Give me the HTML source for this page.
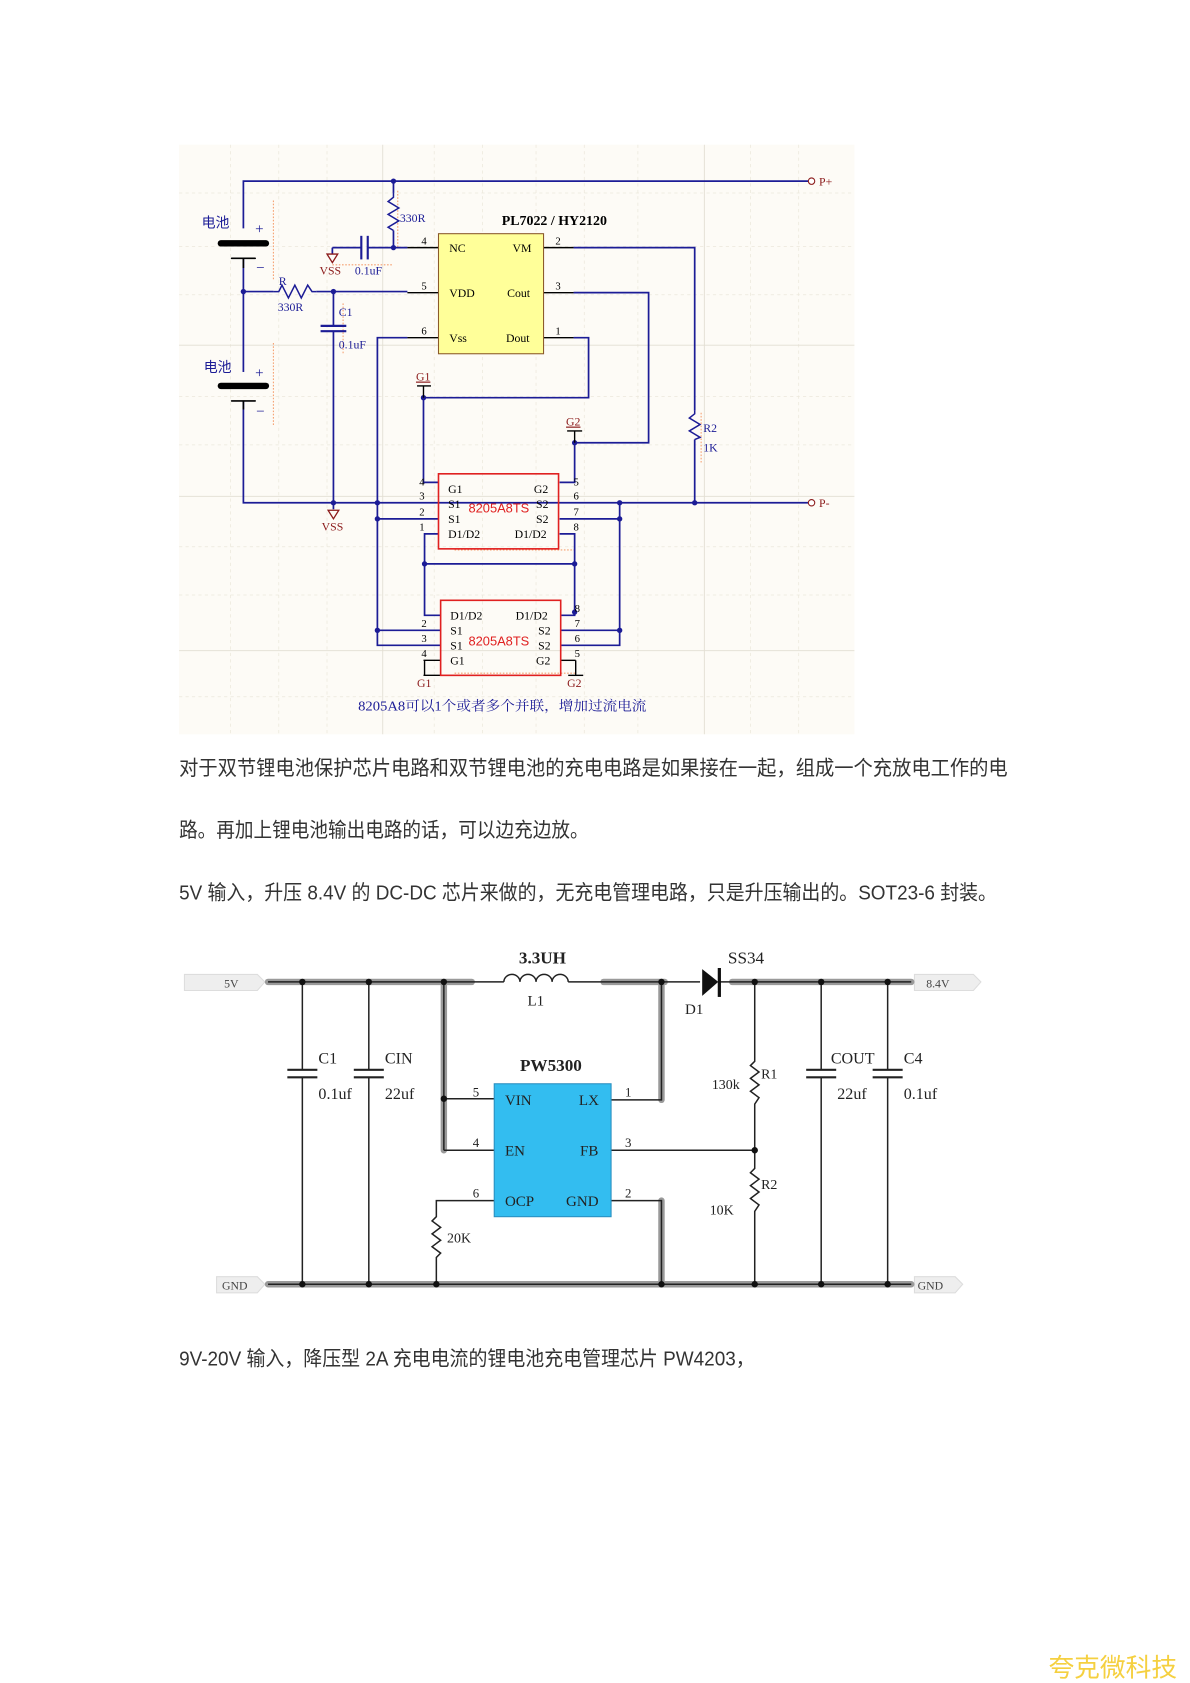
<!DOCTYPE html>
<html><head><meta charset="utf-8"><style>
html,body{margin:0;padding:0;background:#fff;}
svg{display:block;}
.t{font-family:"Liberation Sans","Noto Sans CJK SC",sans-serif;fill:#333;font-size:19px;}
.s{font-family:"Liberation Serif","Noto Serif CJK SC",serif;}
</style></head><body>
<svg width="1190" height="1683" viewBox="0 0 1110 1570" xmlns="http://www.w3.org/2000/svg">
<rect x="167" y="135" width="630" height="550" fill="#fdfbf6"/>
<g stroke="#ece8dc" stroke-width="0.7" stroke-dasharray="3,3">
<line x1="167" y1="180" x2="797" y2="180"/><line x1="167" y1="230" x2="797" y2="230"/><line x1="167" y1="275" x2="797" y2="275"/><line x1="167" y1="370" x2="797" y2="370"/><line x1="167" y1="415" x2="797" y2="415"/><line x1="167" y1="510" x2="797" y2="510"/><line x1="167" y1="555" x2="797" y2="555"/><line x1="167" y1="650" x2="797" y2="650"/>
<line x1="215" y1="135" x2="215" y2="685"/><line x1="260" y1="135" x2="260" y2="685"/><line x1="305" y1="135" x2="305" y2="685"/><line x1="405" y1="135" x2="405" y2="685"/><line x1="450" y1="135" x2="450" y2="685"/><line x1="500" y1="135" x2="500" y2="685"/><line x1="545" y1="135" x2="545" y2="685"/><line x1="595" y1="135" x2="595" y2="685"/><line x1="700" y1="135" x2="700" y2="685"/><line x1="745" y1="135" x2="745" y2="685"/>
</g>
<g stroke="#e2ded2" stroke-width="0.8">
<line x1="167" y1="322" x2="797" y2="322"/><line x1="167" y1="463" x2="797" y2="463"/><line x1="167" y1="607" x2="797" y2="607"/>
<line x1="357" y1="135" x2="357" y2="685"/><line x1="657" y1="135" x2="657" y2="685"/>
</g>
<g stroke="#f5a070" stroke-width="1" stroke-dasharray="1.5,1.5" fill="none">
<line x1="255" y1="187" x2="255" y2="262"/><line x1="255" y1="320" x2="255" y2="398"/>
<line x1="371" y1="178" x2="371" y2="232"/><line x1="310" y1="247" x2="367" y2="247"/>
<line x1="320" y1="283" x2="320" y2="330"/><line x1="654" y1="385" x2="654" y2="432"/>
<line x1="424" y1="513" x2="536" y2="513"/><line x1="424" y1="628" x2="537" y2="628"/>
</g>
<g stroke="#1c1c96" stroke-width="1.6" fill="none">
<polyline points="227,213 227,169 755,169"/>
<line x1="227" y1="241" x2="227" y2="347"/>
<polyline points="227,374 227,469 755,469"/>
<line x1="227" y1="272" x2="255" y2="272"/>
<line x1="295" y1="272" x2="380" y2="272"/>
<line x1="311" y1="272" x2="311" y2="304"/>
<line x1="311" y1="309" x2="311" y2="475"/>
<line x1="367" y1="169" x2="367" y2="180"/>
<line x1="367" y1="215" x2="367" y2="231"/>
<line x1="310" y1="231" x2="337" y2="231"/><line x1="343" y1="231" x2="380" y2="231"/>
<line x1="310" y1="231" x2="310" y2="237"/>
<polyline points="535,231 648,231 648,383"/>
<line x1="648" y1="410" x2="648" y2="469"/>
<polyline points="535,273 605,273 605,413 536,413 536,450 522,450"/>
<polyline points="535,315 549,315 549,371 395,371 395,450 409,450"/>
<polyline points="380,315 352,315 352,602 411,602"/>
<line x1="352" y1="484" x2="409" y2="484"/><line x1="352" y1="588" x2="411" y2="588"/>
<polyline points="409,498 396,498 396,574 411,574"/>
<line x1="396" y1="526" x2="536" y2="526"/>
<polyline points="522,498 536,498 536,574 523,574"/>
<line x1="522" y1="484" x2="578" y2="484"/>
<polyline points="578,469 578,602 523,602"/>
<line x1="523" y1="588" x2="578" y2="588"/>
</g>
<g stroke="#1c1c96" stroke-width="1.4" fill="none">
<polyline points="255,272 260,272 263,266 269,278 275,266 281,278 287,266 291,272 295,272"/>
<polyline points="367,180 367,184 362,188 372,194 362,200 372,206 362,212 367,215"/>
<polyline points="648,383 648,386 643,390 653,396 643,402 653,408 648,410"/>
</g>
<g stroke="#1c1c96" stroke-width="2">
<line x1="337" y1="220" x2="337" y2="242"/><line x1="343" y1="220" x2="343" y2="242"/>
<line x1="299" y1="304" x2="323" y2="304"/><line x1="299" y1="309" x2="323" y2="309"/>
</g>
<g stroke="#000" stroke-linecap="round">
<line x1="206" y1="227" x2="248" y2="227" stroke-width="6"/><line x1="216" y1="241" x2="238" y2="241" stroke-width="1.5"/>
<line x1="206" y1="360" x2="248" y2="360" stroke-width="6"/><line x1="216" y1="374" x2="238" y2="374" stroke-width="1.5"/>
</g>
<line x1="227" y1="241" x2="227" y2="250" stroke="#000" stroke-width="1.5"/>
<line x1="227" y1="374" x2="227" y2="382" stroke="#000" stroke-width="1.5"/>
<g fill="#1c1c96">
<circle cx="367" cy="169" r="2.5"/><circle cx="367" cy="231" r="2.5"/><circle cx="227" cy="272" r="2.5"/><circle cx="311" cy="272" r="2.5"/><circle cx="311" cy="469" r="2.5"/><circle cx="352" cy="469" r="2.5"/><circle cx="352" cy="484" r="2.5"/><circle cx="578" cy="469" r="2.5"/><circle cx="578" cy="484" r="2.5"/><circle cx="648" cy="469" r="2.5"/><circle cx="395" cy="371" r="2.5"/><circle cx="536" cy="413" r="2.5"/><circle cx="396" cy="526" r="2.5"/><circle cx="536" cy="526" r="2.5"/><circle cx="536" cy="571" r="2.5"/><circle cx="352" cy="588" r="2.5"/><circle cx="578" cy="588" r="2.5"/>
</g>
<g stroke="#000" stroke-width="1.3">
<line x1="380" y1="231" x2="409" y2="231"/><line x1="380" y1="273" x2="409" y2="273"/><line x1="380" y1="315" x2="409" y2="315"/>
<line x1="507" y1="231" x2="535" y2="231"/><line x1="507" y1="273" x2="535" y2="273"/><line x1="507" y1="315" x2="535" y2="315"/>
<line x1="395" y1="630" x2="411" y2="630"/><line x1="395" y1="616" x2="411" y2="616"/><line x1="396" y1="616" x2="396" y2="630"/>
<line x1="523" y1="616" x2="537" y2="616"/><line x1="537" y1="616" x2="537" y2="630"/><line x1="530" y1="630" x2="544" y2="630"/>
<line x1="389" y1="360" x2="402" y2="360"/><line x1="395" y1="360" x2="395" y2="371"/>
<line x1="529" y1="402" x2="543" y2="402"/><line x1="536" y1="402" x2="536" y2="413"/>
</g>
<rect x="409" y="218" width="98" height="112" fill="#ffff99" stroke="#8b5a2b" stroke-width="1"/>
<rect x="409" y="442" width="112" height="70" fill="none" stroke="#e02020" stroke-width="1.5"/>
<rect x="411" y="560" width="112" height="70" fill="none" stroke="#e02020" stroke-width="1.5"/>
<g fill="none" stroke="#8b1a1a" stroke-width="1.2">
<polygon points="305,237 315,237 310,245"/><polygon points="306,476 316,476 311,484"/>
</g>
<circle cx="757" cy="169" r="3" fill="#fff" stroke="#8b1a1a"/><circle cx="757" cy="469" r="3" fill="#fff" stroke="#8b1a1a"/>
<g class="s" font-size="11" fill="#8b1a1a">
<text x="764" y="173">P+</text><text x="764" y="473">P-</text>
<text x="298" y="256">VSS</text><text x="300" y="495">VSS</text>
<text x="388" y="355" text-decoration="underline">G1</text><text x="528" y="397" text-decoration="underline">G2</text>
<text x="389" y="641">G1</text><text x="529" y="641">G2</text>
</g>
<g class="s" font-size="11" fill="#1c1c96">
<text x="188" y="212" font-size="13" font-family="Noto Sans CJK SC,sans-serif">电池</text>
<text x="190" y="347" font-size="13" font-family="Noto Sans CJK SC,sans-serif">电池</text>
<text x="238" y="218" font-size="14">+</text><text x="238" y="352" font-size="14">+</text>
<text x="239" y="254" font-size="14">−</text><text x="239" y="388" font-size="14">−</text>
<text x="260" y="266">R</text><text x="259" y="290">330R</text>
<text x="373" y="207">330R</text><text x="331" y="256">0.1uF</text>
<text x="316" y="295">C1</text><text x="316" y="325">0.1uF</text>
<text x="656" y="403">R2</text><text x="656" y="421">1K</text>
<text x="334" y="663" font-size="12.5" textLength="269" lengthAdjust="spacingAndGlyphs">8205A8可以1个或者多个并联，增加过流电流</text>
</g>
<g class="s" font-size="11" fill="#000">
<text x="468" y="210" font-weight="bold" font-size="13">PL7022 / HY2120</text>
<text x="419" y="235">NC</text><text x="478" y="235">VM</text>
<text x="419" y="277">VDD</text><text x="473" y="277">Cout</text>
<text x="419" y="319">Vss</text><text x="472" y="319">Dout</text>
<text x="393" y="228" font-size="10">4</text><text x="393" y="270" font-size="10">5</text><text x="393" y="312" font-size="10">6</text>
<text x="518" y="228" font-size="10">2</text><text x="518" y="270" font-size="10">3</text><text x="518" y="312" font-size="10">1</text>
<text x="418" y="460">G1</text><text x="498" y="460">G2</text>
<text x="418" y="474">S1</text><text x="500" y="474">S2</text>
<text x="418" y="488">S1</text><text x="500" y="488">S2</text>
<text x="418" y="502">D1/D2</text><text x="480" y="502">D1/D2</text>
<text x="420" y="578">D1/D2</text><text x="481" y="578">D1/D2</text>
<text x="420" y="592">S1</text><text x="502" y="592">S2</text>
<text x="420" y="606">S1</text><text x="502" y="606">S2</text>
<text x="420" y="620">G1</text><text x="500" y="620">G2</text>
<g font-size="10">
<text x="391" y="453">4</text><text x="391" y="466">3</text><text x="391" y="481">2</text><text x="391" y="495">1</text>
<text x="535" y="453">5</text><text x="535" y="466">6</text><text x="535" y="481">7</text><text x="535" y="495">8</text>
<text x="393" y="585">2</text><text x="393" y="599">3</text><text x="393" y="613">4</text>
<text x="536" y="571">8</text><text x="536" y="585">7</text><text x="536" y="599">6</text><text x="536" y="613">5</text>
</g>
</g>
<g font-family="Liberation Sans,sans-serif" font-size="12" fill="#e02020">
<text x="437" y="478">8205A8TS</text><text x="437" y="602">8205A8TS</text>
</g>

<text class="t" x="167" y="723" textLength="773" lengthAdjust="spacingAndGlyphs">对于双节锂电池保护芯片电路和双节锂电池的充电电路是如果接在一起，组成一个充放电工作的电</text>
<text class="t" x="167" y="781" textLength="382" lengthAdjust="spacingAndGlyphs">路。再加上锂电池输出电路的话，可以边充边放。</text>
<text class="t" x="167" y="839" textLength="763" lengthAdjust="spacingAndGlyphs">5V 输入，升压 8.4V 的 DC-DC 芯片来做的，无充电管理电路，只是升压输出的。SOT23-6 封装。</text>
<text class="t" x="167" y="1274" textLength="537" lengthAdjust="spacingAndGlyphs">9V-20V 输入，降压型 2A 充电电流的锂电池充电管理芯片 PW4203，</text>

<g fill="#eeeeee" stroke="#dddddd">
<polygon points="172,909 240,909 247,916 240,924 172,924"/>
<polygon points="853,909 908,909 915,916 908,924 853,924"/>
<polygon points="202,1191 240,1191 247,1198 240,1206 202,1206"/>
<polygon points="853,1191 891,1191 898,1198 891,1206 853,1206"/>
</g>
<g font-family="Liberation Serif,serif" font-size="11" fill="#444">
<text x="209" y="921">5V</text><text x="864" y="921">8.4V</text>
<text x="207" y="1203">GND</text><text x="856" y="1203">GND</text>
</g>
<g stroke="#9a9a9a" stroke-width="6" stroke-linecap="round" fill="none">
<line x1="250" y1="916" x2="440" y2="916"/><line x1="563" y1="916" x2="620" y2="916"/><line x1="683" y1="916" x2="850" y2="916"/>
<line x1="250" y1="1198" x2="850" y2="1198"/>
<polyline points="414,916 414,1073"/><polyline points="617,916 617,1026"/><polyline points="617,1120 617,1198"/>
</g>
<g stroke="#222" stroke-width="1.4" fill="none">
<line x1="250" y1="916" x2="470" y2="916"/><line x1="530" y1="916" x2="653" y2="916"/><line x1="672" y1="916" x2="850" y2="916"/>
<line x1="250" y1="1198" x2="850" y2="1198"/>
<path d="M470,916 a7.5,7 0 0 1 15,0 a7.5,7 0 0 1 15,0 a7.5,7 0 0 1 15,0 a7.5,7 0 0 1 15,0"/>
<line x1="414" y1="916" x2="414" y2="1073"/><line x1="414" y1="1025" x2="461" y2="1025"/><line x1="414" y1="1073" x2="461" y2="1073"/>
<polyline points="570,1026 617,1026 617,916"/><line x1="570" y1="1073" x2="704" y2="1073"/>
<polyline points="570,1120 617,1120 617,1198"/>
<polyline points="461,1120 407,1120 407,1135 403,1139 411,1145 403,1151 411,1157 403,1163 411,1169 407,1173 407,1198"/>
<line x1="282" y1="916" x2="282" y2="998"/><line x1="282" y1="1005" x2="282" y2="1198"/>
<line x1="344" y1="916" x2="344" y2="998"/><line x1="344" y1="1005" x2="344" y2="1198"/>
<line x1="766" y1="916" x2="766" y2="998"/><line x1="766" y1="1005" x2="766" y2="1198"/>
<line x1="828" y1="916" x2="828" y2="998"/><line x1="828" y1="1005" x2="828" y2="1198"/>
<polyline points="704,916 704,990 700,994 708,1000 700,1006 708,1012 700,1018 708,1024 704,1030 704,1090 700,1094 708,1100 700,1106 708,1112 700,1118 708,1124 704,1130 704,1198"/>
</g>
<g stroke="#222" stroke-width="2">
<line x1="268" y1="998" x2="296" y2="998"/><line x1="268" y1="1005" x2="296" y2="1005"/>
<line x1="330" y1="998" x2="358" y2="998"/><line x1="330" y1="1005" x2="358" y2="1005"/>
<line x1="752" y1="998" x2="780" y2="998"/><line x1="752" y1="1005" x2="780" y2="1005"/>
<line x1="814" y1="998" x2="842" y2="998"/><line x1="814" y1="1005" x2="842" y2="1005"/>
</g>
<polygon points="655,904 655,929 670,916" fill="#111"/><line x1="671" y1="903" x2="671" y2="930" stroke="#111" stroke-width="3"/>
<g fill="#111">
<circle cx="282" cy="916" r="3"/><circle cx="344" cy="916" r="3"/><circle cx="414" cy="916" r="3"/><circle cx="617" cy="916" r="3"/><circle cx="704" cy="916" r="3"/><circle cx="766" cy="916" r="3"/><circle cx="828" cy="916" r="3"/>
<circle cx="414" cy="1025" r="3"/><circle cx="704" cy="1073" r="3"/>
<circle cx="282" cy="1198" r="3"/><circle cx="344" cy="1198" r="3"/><circle cx="407" cy="1198" r="3"/><circle cx="617" cy="1198" r="3"/><circle cx="704" cy="1198" r="3"/><circle cx="766" cy="1198" r="3"/><circle cx="828" cy="1198" r="3"/>
</g>
<rect x="461" y="1011" width="109" height="124" fill="#33bdf0" stroke="#2a8fc0" stroke-width="1"/>
<g font-family="Liberation Serif,serif" fill="#222" font-size="14">
<text x="484" y="899" font-weight="bold" font-size="16">3.3UH</text>
<text x="679" y="899" font-size="16">SS34</text>
<text x="492" y="938">L1</text><text x="639" y="946">D1</text>
<text x="485" y="999" font-weight="bold" font-size="16">PW5300</text>
<text x="297" y="992" font-size="15">C1</text><text x="297" y="1025" font-size="15">0.1uf</text>
<text x="359" y="992" font-size="15">CIN</text><text x="359" y="1025" font-size="15">22uf</text>
<text x="775" y="992" font-size="15">COUT</text><text x="781" y="1025" font-size="15">22uf</text>
<text x="843" y="992" font-size="15">C4</text><text x="843" y="1025" font-size="15">0.1uf</text>
<text x="471" y="1031">VIN</text><text x="540" y="1031">LX</text>
<text x="471" y="1078">EN</text><text x="541" y="1078">FB</text>
<text x="471" y="1125">OCP</text><text x="528" y="1125">GND</text>
<g font-size="12"><text x="441" y="1023">5</text><text x="441" y="1070">4</text><text x="441" y="1117">6</text>
<text x="583" y="1023">1</text><text x="583" y="1070">3</text><text x="583" y="1117">2</text></g>
<text x="664" y="1016" font-size="13">130k</text><text x="710" y="1006" font-size="13">R1</text>
<text x="662" y="1133" font-size="13">10K</text><text x="710" y="1109" font-size="13">R2</text>
<text x="417" y="1159" font-size="13">20K</text>
</g>
<text x="978" y="1564" font-family="Noto Sans CJK SC,sans-serif" font-size="24" fill="#f5d040">夸克微科技</text>
</svg>
</body></html>
